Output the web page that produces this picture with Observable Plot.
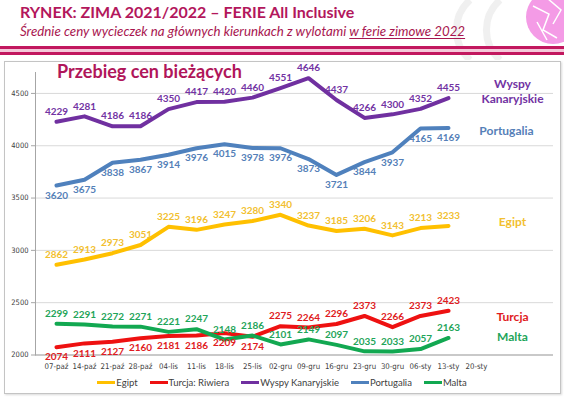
<!DOCTYPE html>
<html><head><meta charset="utf-8">
<script src="https://cdn.jsdelivr.net/npm/d3@7"></script>
<script src="https://cdn.jsdelivr.net/npm/@observablehq/plot@0.6"></script>
<style>
body{margin:0;background:#fff;font-family:Lato,"Open Sans",sans-serif;}
#wrap{position:relative;width:564px;height:398px;overflow:hidden;background:#fff;}
#deco{position:absolute;left:0;top:0;}
#frame{position:absolute;left:4px;top:61px;width:555px;height:331px;border:1px solid #c4c4c4;box-shadow:1px 1px 2px rgba(0,0,0,0.15);}
#chart{position:absolute;left:0;top:0;}
.h1{position:absolute;left:20px;top:2px;font-size:16px;font-weight:bold;color:#b3175c;white-space:nowrap;}
.h2{position:absolute;left:20px;top:23px;font-size:13.3px;font-style:italic;color:#a8164f;white-space:nowrap;}
.h2 u{text-decoration-thickness:1px;text-underline-offset:2px;}
.bar1{position:absolute;left:0;top:46px;width:564px;height:3px;background:#c2185f;}
.bar1b{position:absolute;left:0;top:49px;width:564px;height:3px;background:#f4c9da;}
.bar2{position:absolute;left:0;top:52px;width:564px;height:3px;background:#c2185f;}
.ctitle{position:absolute;left:57px;top:60px;font-size:18px;font-weight:bold;color:#b0165a;white-space:nowrap;}
#legend{position:absolute;left:0;top:377px;width:564px;display:flex;justify-content:center;gap:12px;font-size:9.5px;color:#404040;}
#legend span.item{display:flex;align-items:center;white-space:nowrap;}
#legend span.sw{display:inline-block;width:18px;height:3px;margin-right:1px;}
g[aria-label="x-axis tick label"] text, g[aria-label="y-axis tick label"] text{font-family:"Liberation Sans Narrow","DejaVu Sans Condensed",Lato,sans-serif;}
</style></head><body>
<div id="wrap">
  <svg id="deco" width="564" height="60">
    <path d="M470 0 A40 40 0 0 0 470 60" fill="none" stroke="#f0f0f0" stroke-width="7"/>
    <path d="M500 0 A40 40 0 0 0 500 60" fill="none" stroke="#f0f0f0" stroke-width="7"/>
    <circle cx="553" cy="17" r="27" fill="#f49be6"/>
    <path d="M533 6 L549 14 L543 30 L557 38 M547 -2 L561 10 L553 24 M537 22 L547 40" stroke="#fff" stroke-width="1.5" fill="none"/>
  </svg>
  <div id="frame"></div>
  <div id="chart"></div>
  <div class="bar1"></div><div class="bar1b"></div><div class="bar2"></div>
  <div class="h1">RYNEK: ZIMA 2021/2022 – FERIE All Inclusive</div>
  <div class="h2">Średnie ceny wycieczek na głównych kierunkach z wylotami <u>w ferie zimowe 2022</u></div>
  <div class="ctitle">Przebieg cen bieżących</div>
  <div id="legend"></div>
</div>
<script>
const xLabels = ["07-paź","14-paź","21-paź","28-paź","04-lis","11-lis","18-lis","25-lis","02-gru","09-gru","16-gru","23-gru","30-gru","06-sty","13-sty","20-sty"];
const xExtra = ["27-sty","03-lut"]; // unlabeled category slots on the axis
const yTicks = [2000,2500,3000,3500,4000,4500];

const egipt      = [2862,2913,2973,3051,3225,3196,3247,3280,3340,3237,3185,3206,3143,3213,3233];
const turcja     = [2074,2111,2127,2160,2181,2186,2209,2174,2275,2264,2296,2373,2266,2373,2423];
const wyspy      = [4229,4281,4186,4186,4350,4417,4420,4460,4551,4646,4437,4266,4300,4352,4455];
const portugalia = [3620,3675,3838,3867,3914,3976,4015,3978,3976,3873,3721,3844,3937,4165,4169];
const malta      = [2299,2291,2272,2271,2221,2247,2148,2186,2101,2149,2097,2035,2033,2057,2163];

const seriesNames = ["Egipt","Turcja: Riwiera","Wyspy Kanaryjskie","Portugalia","Malta"];
const endLabels   = ["Egipt","Turcja","Wyspy\nKanaryjskie","Portugalia","Malta"];
const lineColors  = ["#ffc000","#ee1111","#7030a0","#4f81bd","#12a851"];
const textColors  = ["#f2bf30","#e01b22","#7233a3","#5580b8","#1fa55a"];

const values = [egipt, turcja, wyspy, portugalia, malta];
const xDomain = [...xLabels, ...xExtra];

const rows = [];
values.forEach((arr, s) => arr.forEach((v, i) => rows.push({series: seriesNames[s], s, i, x: xLabels[i], y: v})));

// label placement per series (below the line or above)
function isBelow(d) {
  if (d.series === "Portugalia") return true;
  if (d.series === "Turcja: Riwiera") return d.i < 8;
  return false;
}
const endDy = [-5, 5, -7.5, 2, -2];

const marks = [
  Plot.gridY(yTicks, {stroke: "#d9d9d9", strokeOpacity: 1}),
  Plot.frame({anchor: "left", stroke: "#a6a6a6"}),
  Plot.ruleY([2000], {stroke: "#a6a6a6"}),
  Plot.axisY(yTicks, {tickSize: 4, tickPadding: 3, fontSize: 7.5, color: "#404040", stroke: "#a6a6a6", tickFormat: d => String(d), label: null}),
  Plot.axisX(xLabels, {tickSize: 0, tickPadding: 8, fontSize: 7.8, color: "#404040", label: null}),
  Plot.line(rows, {x: "x", y: "y", z: "series", stroke: "series", strokeWidth: 4, strokeLinejoin: "round"})
];
values.forEach((arr, s) => {
  const sr = rows.filter(d => d.s === s);
  marks.push(Plot.text(sr.filter(d => !isBelow(d)), {x: "x", y: "y", text: d => String(d.y), dy: -10, fill: textColors[s], fontSize: 10, fontWeight: "bold"}));
  marks.push(Plot.text(sr.filter(d => isBelow(d)), {x: "x", y: "y", text: d => String(d.y), dy: 10, fill: textColors[s], fontSize: 10, fontWeight: "bold"}));
  marks.push(Plot.text([{x: xExtra[0], y: arr[arr.length - 1], t: endLabels[s]}], {x: "x", y: "y", text: "t", dx: s === 3 ? 2 : 8, dy: endDy[s], fill: textColors[s], fontSize: 12, fontWeight: "bold", lineHeight: 1.25}));
});

const chart = Plot.plot({
  width: 564,
  height: 398,
  marginTop: 72,
  marginBottom: 43.5,
  marginLeft: 35,
  marginRight: 11,
  style: {background: "transparent", fontFamily: "Lato, sans-serif"},
  x: {type: "point", domain: xDomain, padding: 0.5, axis: null, label: null},
  y: {domain: [2000, 4700], axis: null, label: null},
  color: {domain: seriesNames, range: lineColors},
  marks
});
document.getElementById("chart").appendChild(chart);

const legend = document.getElementById("legend");
seriesNames.forEach((n, i) => {
  const it = document.createElement("span");
  it.className = "item";
  const sw = document.createElement("span");
  sw.className = "sw";
  sw.style.background = lineColors[i];
  it.appendChild(sw);
  it.appendChild(document.createTextNode(n));
  legend.appendChild(it);
});
</script>
</body></html>
